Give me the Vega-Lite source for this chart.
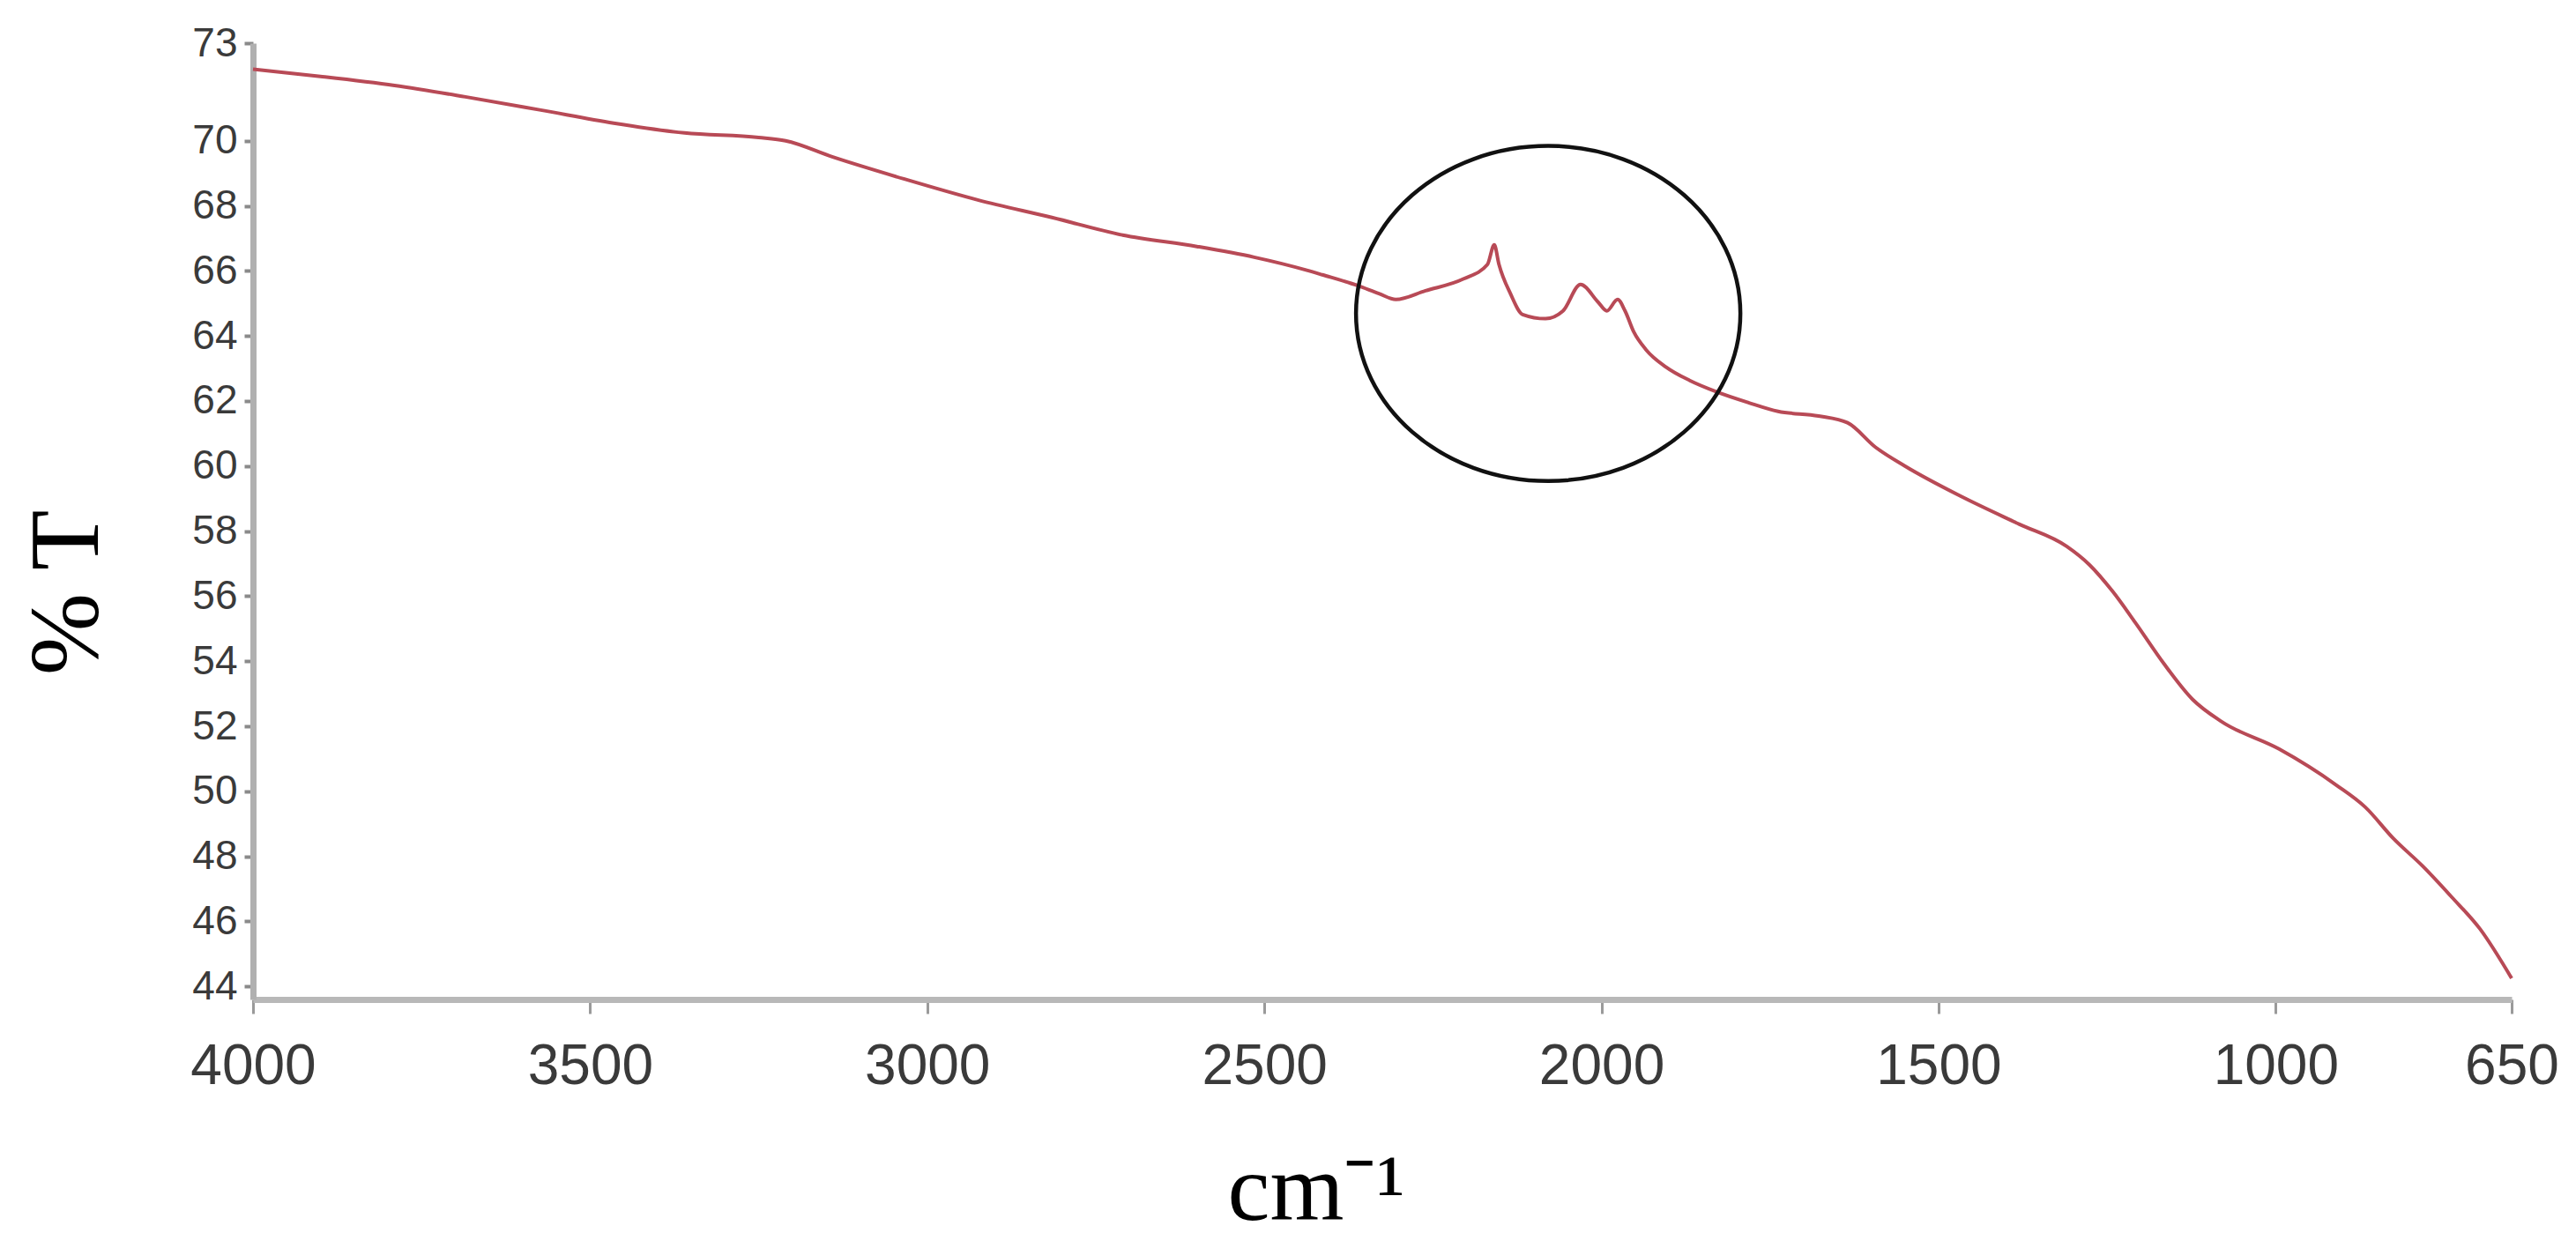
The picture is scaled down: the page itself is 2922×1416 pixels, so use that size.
{
  "$schema": "https://vega.github.io/schema/vega-lite/v6.json",
  "width": 2562,
  "height": 1085,
  "autosize": {"type": "none"},
  "padding": {"left": 287, "top": 49, "right": 73, "bottom": 282},
  "background": "white",
  "config": {
    "view": {"stroke": null},
    "axis": {"grid": false}
  },
  "datasets": {
    "spectrum": [
      {"wavenumber": 4000, "T": 72.2},
      {"wavenumber": 3900, "T": 71.98},
      {"wavenumber": 3790, "T": 71.7},
      {"wavenumber": 3685, "T": 71.35},
      {"wavenumber": 3575, "T": 70.95},
      {"wavenumber": 3465, "T": 70.54},
      {"wavenumber": 3360, "T": 70.24},
      {"wavenumber": 3250, "T": 70.1},
      {"wavenumber": 3210, "T": 70.0},
      {"wavenumber": 3140, "T": 69.5},
      {"wavenumber": 3035, "T": 68.83},
      {"wavenumber": 2925, "T": 68.18},
      {"wavenumber": 2815, "T": 67.64},
      {"wavenumber": 2710, "T": 67.1},
      {"wavenumber": 2600, "T": 66.75},
      {"wavenumber": 2515, "T": 66.42},
      {"wavenumber": 2437, "T": 66.02},
      {"wavenumber": 2414, "T": 65.88},
      {"wavenumber": 2362, "T": 65.55},
      {"wavenumber": 2330, "T": 65.3},
      {"wavenumber": 2305, "T": 65.12},
      {"wavenumber": 2261, "T": 65.39},
      {"wavenumber": 2205, "T": 65.75},
      {"wavenumber": 2169, "T": 66.2},
      {"wavenumber": 2159, "T": 66.8},
      {"wavenumber": 2152, "T": 66.2},
      {"wavenumber": 2135, "T": 65.3},
      {"wavenumber": 2117, "T": 64.66},
      {"wavenumber": 2083, "T": 64.53},
      {"wavenumber": 2057, "T": 64.77},
      {"wavenumber": 2031, "T": 65.58},
      {"wavenumber": 2005, "T": 65.04},
      {"wavenumber": 1992, "T": 64.77},
      {"wavenumber": 1976, "T": 65.12},
      {"wavenumber": 1965, "T": 64.77},
      {"wavenumber": 1952, "T": 64.12},
      {"wavenumber": 1934, "T": 63.58},
      {"wavenumber": 1904, "T": 63.04},
      {"wavenumber": 1869, "T": 62.63},
      {"wavenumber": 1829, "T": 62.28},
      {"wavenumber": 1782, "T": 61.95},
      {"wavenumber": 1738, "T": 61.68},
      {"wavenumber": 1678, "T": 61.54},
      {"wavenumber": 1635, "T": 61.33},
      {"wavenumber": 1593, "T": 60.57},
      {"wavenumber": 1550, "T": 60.0},
      {"wavenumber": 1465, "T": 59.05},
      {"wavenumber": 1380, "T": 58.21},
      {"wavenumber": 1310, "T": 57.53},
      {"wavenumber": 1276, "T": 56.96},
      {"wavenumber": 1242, "T": 56.15},
      {"wavenumber": 1208, "T": 55.18},
      {"wavenumber": 1166, "T": 53.93},
      {"wavenumber": 1123, "T": 52.82},
      {"wavenumber": 1080, "T": 52.14},
      {"wavenumber": 995, "T": 51.3},
      {"wavenumber": 910, "T": 50.19},
      {"wavenumber": 867, "T": 49.51},
      {"wavenumber": 825, "T": 48.54},
      {"wavenumber": 782, "T": 47.7},
      {"wavenumber": 739, "T": 46.75},
      {"wavenumber": 697, "T": 45.77},
      {"wavenumber": 650, "T": 44.25}
    ],
    "highlight": [
      {"wavenumber": 2079, "T": 64.69}
    ]
  },
  "encoding": {
    "x": {
      "field": "wavenumber",
      "type": "quantitative",
      "scale": {"domain": [650, 4000], "reverse": true, "nice": false, "zero": false},
      "axis": {
        "values": [4000, 3500, 3000, 2500, 2000, 1500, 1000, 650],
        "format": "d",
        "title": "cm⁻¹",
        "titleFont": "Liberation Serif",
        "titleFontSize": 108,
        "titleFontWeight": "normal",
        "titleColor": "#000000",
        "titleAlign": "left",
        "titleAnchor": null,
        "titleBaseline": "alphabetic",
        "titleX": 1105,
        "titleY": 249,
        "labelFont": "Liberation Sans",
        "labelFontSize": 64,
        "labelColor": "#3a3a3a",
        "labelPadding": 28,
        "labelBaseline": "top",
        "labelFlush": false,
        "labelOverlap": false,
        "domainColor": "#b8b8b8",
        "domainWidth": 7,
        "tickColor": "#9a9a9a",
        "tickWidth": 3,
        "tickSize": 16
      }
    },
    "y": {
      "field": "T",
      "type": "quantitative",
      "scale": {"domain": [43.6, 73], "nice": false, "zero": false},
      "axis": {
        "values": [44, 46, 48, 50, 52, 54, 56, 58, 60, 62, 64, 66, 68, 70, 73],
        "format": "d",
        "title": "% T",
        "titleFont": "Liberation Serif",
        "titleFontSize": 112,
        "titleFontWeight": "normal",
        "titleColor": "#000000",
        "titleAngle": 270,
        "titleAlign": "center",
        "titleAnchor": null,
        "titleBaseline": "alphabetic",
        "titleX": -177,
        "titleY": 623,
        "labelFont": "Liberation Sans",
        "labelFontSize": 46,
        "labelColor": "#3a3a3a",
        "labelPadding": 8,
        "labelFlush": false,
        "labelOverlap": false,
        "domainColor": "#b0b0b0",
        "domainWidth": 7,
        "tickColor": "#8a8a8a",
        "tickWidth": 4,
        "tickSize": 10
      }
    }
  },
  "layer": [
    {
      "data": {"name": "spectrum"},
      "mark": {"type": "line", "color": "#b84a56", "strokeWidth": 4, "interpolate": "monotone"}
    },
    {
      "data": {"name": "highlight"},
      "mark": {
        "type": "point",
        "shape": "M-1,0A1,0.872 0 1,1 1,0A1,0.872 0 1,1 -1,0Z",
        "size": 190096,
        "filled": false,
        "stroke": "#111111",
        "strokeWidth": 4.5,
        "opacity": 1
      }
    }
  ]
}
